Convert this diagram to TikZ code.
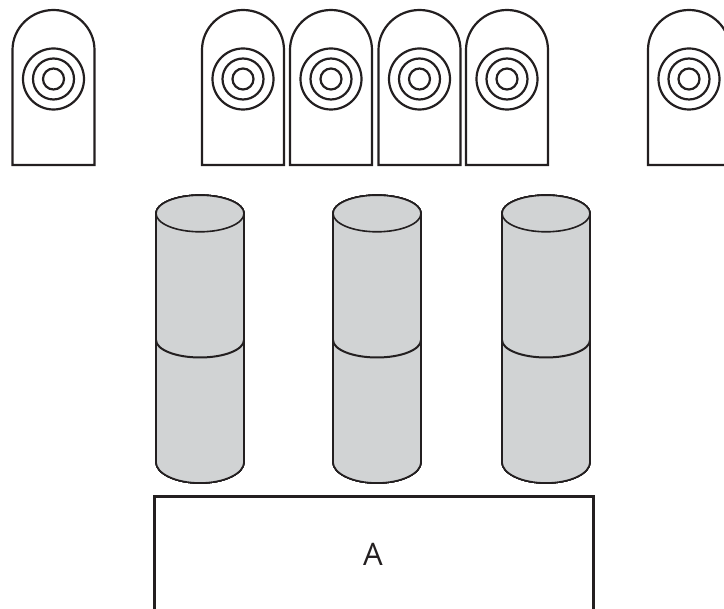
\documentclass[tikz,border=0pt]{standalone}
\usepackage{fontspec}
\setmainfont{Open Sans}
\usepackage{xcolor}
\definecolor{cylgray}{RGB}{209,211,212}
\definecolor{inkdark}{RGB}{35,31,32}
\newcommand{\finger}[1]{%
  \draw[fingerline] (#1-41,165) -- (#1-41,50) arc[start angle=180,end angle=360,x radius=41,y radius=40] -- (#1+41,165) -- cycle;
  \foreach \r in {30.5,20.5,10.5}
    \draw[fingerline] (#1,79) circle[radius=\r];
}
\newcommand{\cyl}[1]{%
  \fill[cylgray] (#1-44,213.5) arc[start angle=180,end angle=360,x radius=44,y radius=18.3] -- (#1+44,462) arc[start angle=0,end angle=180,x radius=44,y radius=21] -- cycle;
  \draw[cylline] (#1-44,213.5) -- (#1-44,462) arc[start angle=180,end angle=0,x radius=44,y radius=21] -- (#1+44,213.5);
  \draw[cylline] (#1,213.5) ellipse[x radius=44,y radius=18.3];
  \draw[cylline,line width=2pt] (#1-44,340) arc[start angle=180,end angle=0,x radius=44,y radius=17.5];
}
\begin{document}
\begin{tikzpicture}[x=1pt,y=-1pt]
  \tikzstyle{fingerline}=[draw=inkdark,line width=2.2pt]
  \tikzstyle{cylline}=[draw=inkdark,line width=1.6pt]
  \clip (0,0) rectangle (724,609);
  \foreach \x in {53.5,243,331,419.5,507,689}
    \finger{\x}
  \foreach \x in {200,377,546}
    \cyl{\x}
  \draw[draw=inkdark,line width=2.4pt] (154.5,625) -- (154.5,496.5) -- (593.5,496.5) -- (593.5,625);
  \node[text=inkdark,font=\fontsize{31}{31}\selectfont,inner sep=0pt] (boxA) at (373,554) {A};
\end{tikzpicture}
\end{document}
